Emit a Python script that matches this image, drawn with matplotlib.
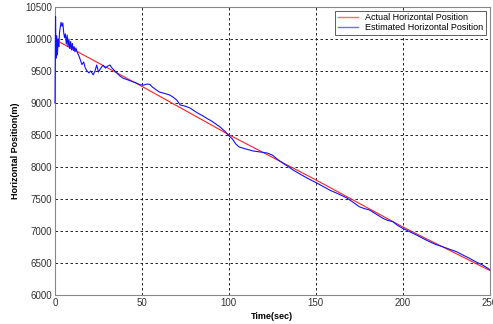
import matplotlib
matplotlib.use("Agg")
import matplotlib.pyplot as plt
from matplotlib.lines import Line2D

plt.rcParams['font.family'] = ['Liberation Sans', 'DejaVu Sans']

# Actual horizontal position (red)
actual_t = [0, 50, 100, 150, 200, 250]
actual_v = [9990, 9260, 8505, 7800, 7065, 6385]

# Estimated horizontal position (blue)
est_t = [0, 0.3, 0.6, 1.0, 1.4, 1.8, 2.2, 2.6, 3.0, 3.5, 4.0, 4.5, 5.0, 5.5, 6.0,
         6.5, 7.0, 7.5, 8.0, 8.5, 9.0, 9.5, 10.0, 10.5, 11.0, 11.5, 12.0, 13, 14,
         15.5, 16.5, 17.5, 18.5, 19.5, 20.5, 22, 23, 24, 25, 26, 27.6, 29, 30,
         31.6, 33, 34.5, 35.6, 37, 39, 41, 43, 45, 47, 49, 51, 53, 54.6, 56, 58,
         60, 63, 66, 68, 70, 72, 75, 77.6, 80, 82, 85, 87, 90, 95, 98, 100, 102,
         104, 106, 110, 114, 118, 122, 125, 128, 131, 134, 137, 141, 145, 150.6,
         154, 158, 163, 168, 172, 175, 178, 181, 185, 188.7, 191, 194.4, 197,
         200, 204, 208, 212, 215.5, 219, 223, 227, 231, 235, 238.5, 242, 246, 250]
est_v = [9000, 10350, 9700, 10050, 9750, 10000, 9880, 10100, 10180, 10260, 10200,
         10250, 10100, 10020, 10080, 9920, 10060, 9880, 10000, 9850, 9960, 9830,
         9930, 9820, 9880, 9800, 9860, 9780, 9720, 9600, 9640, 9540, 9500, 9470,
         9500, 9440, 9500, 9594, 9484, 9530, 9590, 9547, 9570, 9594, 9540, 9500,
         9470, 9430, 9390, 9370, 9350, 9330, 9310, 9285, 9280, 9297, 9290, 9250,
         9210, 9172, 9150, 9125, 9090, 9047, 8970, 8950, 8922, 8880, 8844, 8800,
         8766, 8720, 8625, 8550, 8490, 8440, 8360, 8312, 8280, 8250, 8235, 8219,
         8187, 8120, 8062, 8010, 7953, 7890, 7828, 7750, 7700, 7640, 7580, 7515,
         7440, 7380, 7350, 7328, 7260, 7198, 7170, 7145, 7090, 7042, 6990, 6937,
         6880, 6833, 6790, 6755, 6715, 6677, 6620, 6573, 6520, 6469, 6400]

x_ticks = [0, 50, 100, 150, 200, 250]
y_ticks = [6000, 6500, 7000, 7500, 8000, 8500, 9000, 9500, 10000, 10500]

RED = '#ff2020'
BLUE = '#1010ff'

fig = plt.figure(figsize=(4.93, 3.24), dpi=100)
ax = fig.add_axes([55 / 493, 1 - 295 / 324, (489.5 - 55) / 493, (295 - 7) / 324])

ax.plot(actual_t, actual_v, color=RED, lw=0.8, zorder=3)
ax.plot(est_t, est_v, color=BLUE, lw=0.8, zorder=4, clip_on=False)

ax.set_xlim(0, 250)
ax.set_ylim(6000, 10500)
ax.set_xticks(x_ticks)
ax.set_yticks(y_ticks)
ax.grid(True, color='black', linestyle=(0, (3, 3)), linewidth=0.6)
ax.tick_params(labelsize=7, colors='#333333', length=0, pad=2)
for s in ax.spines.values():
    s.set_color('#888888')
    s.set_linewidth(0.8)

ax.set_xlabel('Time(sec)', fontsize=6.5, fontweight='bold', labelpad=3)
ax.set_ylabel('Horizontal Position(m)', fontsize=6.5, fontweight='bold', labelpad=4)

handles = [Line2D([], [], color='#ff7070', lw=1.0),
           Line2D([], [], color='#7070ff', lw=1.0)]
leg = ax.legend(handles, ['Actual Horizontal Position', 'Estimated Horizontal Position'],
                loc='upper right', fontsize=6.5, frameon=True, fancybox=False,
                handlelength=2.2, borderpad=0.3, labelspacing=0.1,
                borderaxespad=0.4, handletextpad=0.8, framealpha=1)
leg.get_frame().set_edgecolor('#444444')
leg.get_frame().set_linewidth(0.6)
leg.set_zorder(10)

fig.savefig('out.png', dpi=100)
